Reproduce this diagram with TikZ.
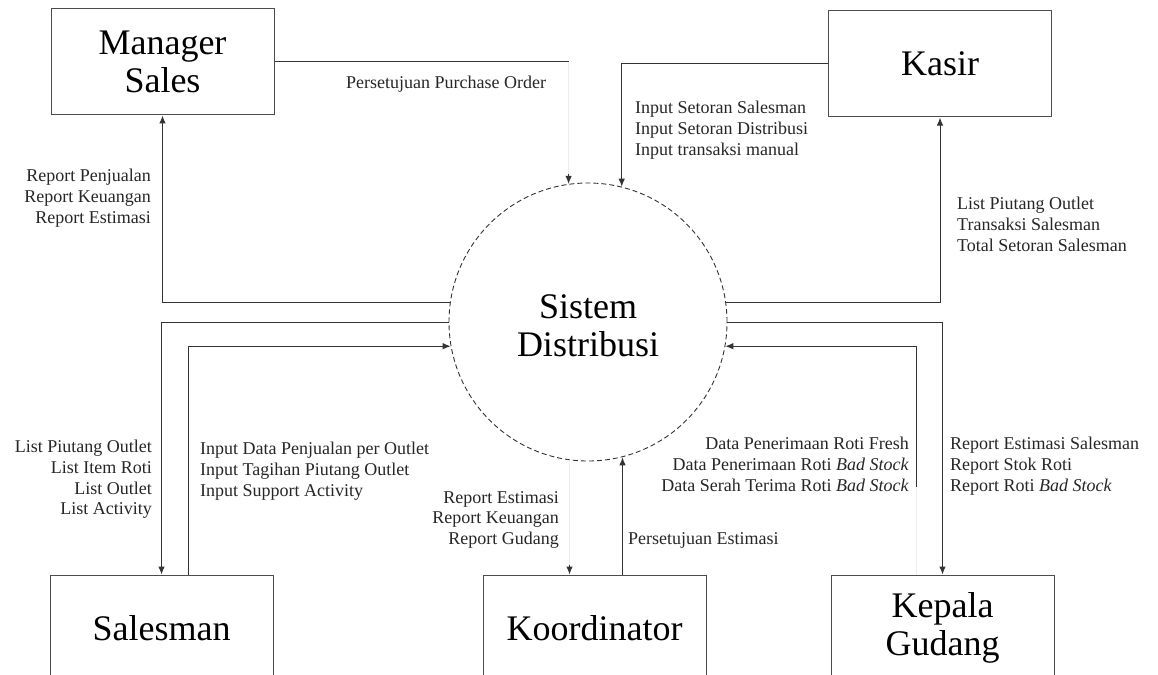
\documentclass[tikz,border=0pt]{standalone}
\usepackage{fontspec}
\setmainfont{Liberation Serif}
\usepackage{tikz}
\usetikzlibrary{positioning, shapes.geometric, arrows.meta}
\tikzstyle{entity} = [draw=black!70, line width=1pt, fill=white, rectangle,
    minimum width=223pt, minimum height=106pt, align=center,
    font=\fontsize{36}{38}\selectfont]
\tikzstyle{process} = [draw=black!80, circle, dash pattern=on 5pt off 3pt,
    line width=0.9pt, minimum size=278pt]
\tikzstyle{title} = [align=center, font=\fontsize{36}{38}\selectfont]
\tikzstyle{flow} = [line width=1pt, draw=black!80, ->]
\tikzstyle{plain} = [line width=1pt, draw=black!80]
\tikzstyle{hidden} = [line width=1pt, draw=black!7]
\tikzstyle{note} = [inner sep=0pt, text=black!85, font=\fontsize{18}{20.7}\selectfont]

\begin{document}
\begin{tikzpicture}[x=1pt, y=-1pt, >={Latex[length=8pt,width=6.5pt]}]
    \useasboundingbox (0,0) rectangle (1158,674);
    \clip (0,0) rectangle (1158,674);
    \node [entity] (manager) at (162.5,62) {Manager\\Sales};
    \node [entity] (kasir) at (940,64) {Kasir};
    \node [entity] (salesman) at (161.5,628) {Salesman};
    \node [entity, right=209pt of salesman] (koordinator) {Koordinator};
    \node [entity, right=124pt of koordinator] (gudang) {Kepala\\Gudang};
    \node [process] (sistem) at (588,322) {};
    \node [title] (sistemtext) at ([yshift=-4pt]sistem.center) {Sistem\\Distribusi};

    \coordinate (salesin) at ([xshift=26.5pt]salesman.north);
    \coordinate (koordout) at ([xshift=-25pt]koordinator.north);
    \coordinate (koordin) at ([xshift=28pt]koordinator.north);
    \coordinate (gudangin) at ([xshift=-26.5pt]gudang.north);
    \coordinate (gudangcut) at ([yshift=88pt]gudangin);

    \draw [flow] (sistem.172) -| (manager.south);
    \draw [plain] (manager.east) -- (manager.east -| sistem.98) coordinate (poturn);
    \draw [hidden] (poturn) -- (sistem.98);
    \draw [flow] ([yshift=10pt]sistem.98) -- (sistem.98);
    \draw [flow] (kasir.west) -| (sistem.76);
    \draw [flow] (sistem.8) -| (kasir.south);
    \draw [flow] (sistem.180) -| (salesman.north);
    \draw [flow] (salesin) |- (sistem.190);
    \draw [hidden] (sistem.262 -| koordout) -- (koordout);
    \draw [flow] ([yshift=10pt]koordout) -- (koordout);
    \draw [flow] (koordin) -- (koordin |- sistem.284);
    \draw [flow] (sistem.0) -| (gudang.north);
    \draw [hidden] (gudangin) -- (gudangcut);
    \draw [flow] (gudangcut) |- (sistem.350);

    \node [note, anchor=north east, align=right] (repmanager) at (151,169) {Report Penjualan\\Report Keuangan\\Report Estimasi};
    \node [note, anchor=base west] (persetujuanpo) at (346,89) {Persetujuan Purchase Order};
    \node [note, anchor=north west, align=left] (inputkasir) at (635,101) {Input Setoran Salesman\\Input Setoran Distribusi\\Input transaksi manual};
    \node [note, anchor=north west, align=left] (listkasir) at (957,197) {List Piutang Outlet\\Transaksi Salesman\\Total Setoran Salesman};
    \node [note, anchor=north east, align=right] (listsales) at (152,440) {List Piutang Outlet\\List Item Roti\\List Outlet\\List Activity};
    \node [note, anchor=north west, align=left] (inputsales) at (200,442) {Input Data Penjualan per Outlet\\Input Tagihan Piutang Outlet\\Input Support Activity};
    \node [note, anchor=north east, align=right] (repkoordinator) at (559,491) {Report Estimasi\\Report Keuangan\\Report Gudang};
    \node [note, anchor=base west] (persetujuanest) at (628,544) {Persetujuan Estimasi};
    \node [note, anchor=north east, align=right] (datagudang) at (909,437) {Data Penerimaan Roti Fresh\\Data Penerimaan Roti \textit{Bad Stock}\\Data Serah Terima Roti \textit{Bad Stock}};
    \node [note, anchor=north west, align=left] (repgudang) at (950,437) {Report Estimasi Salesman\\Report Stok Roti\\Report Roti \textit{Bad Stock}};
\end{tikzpicture}
\end{document}
